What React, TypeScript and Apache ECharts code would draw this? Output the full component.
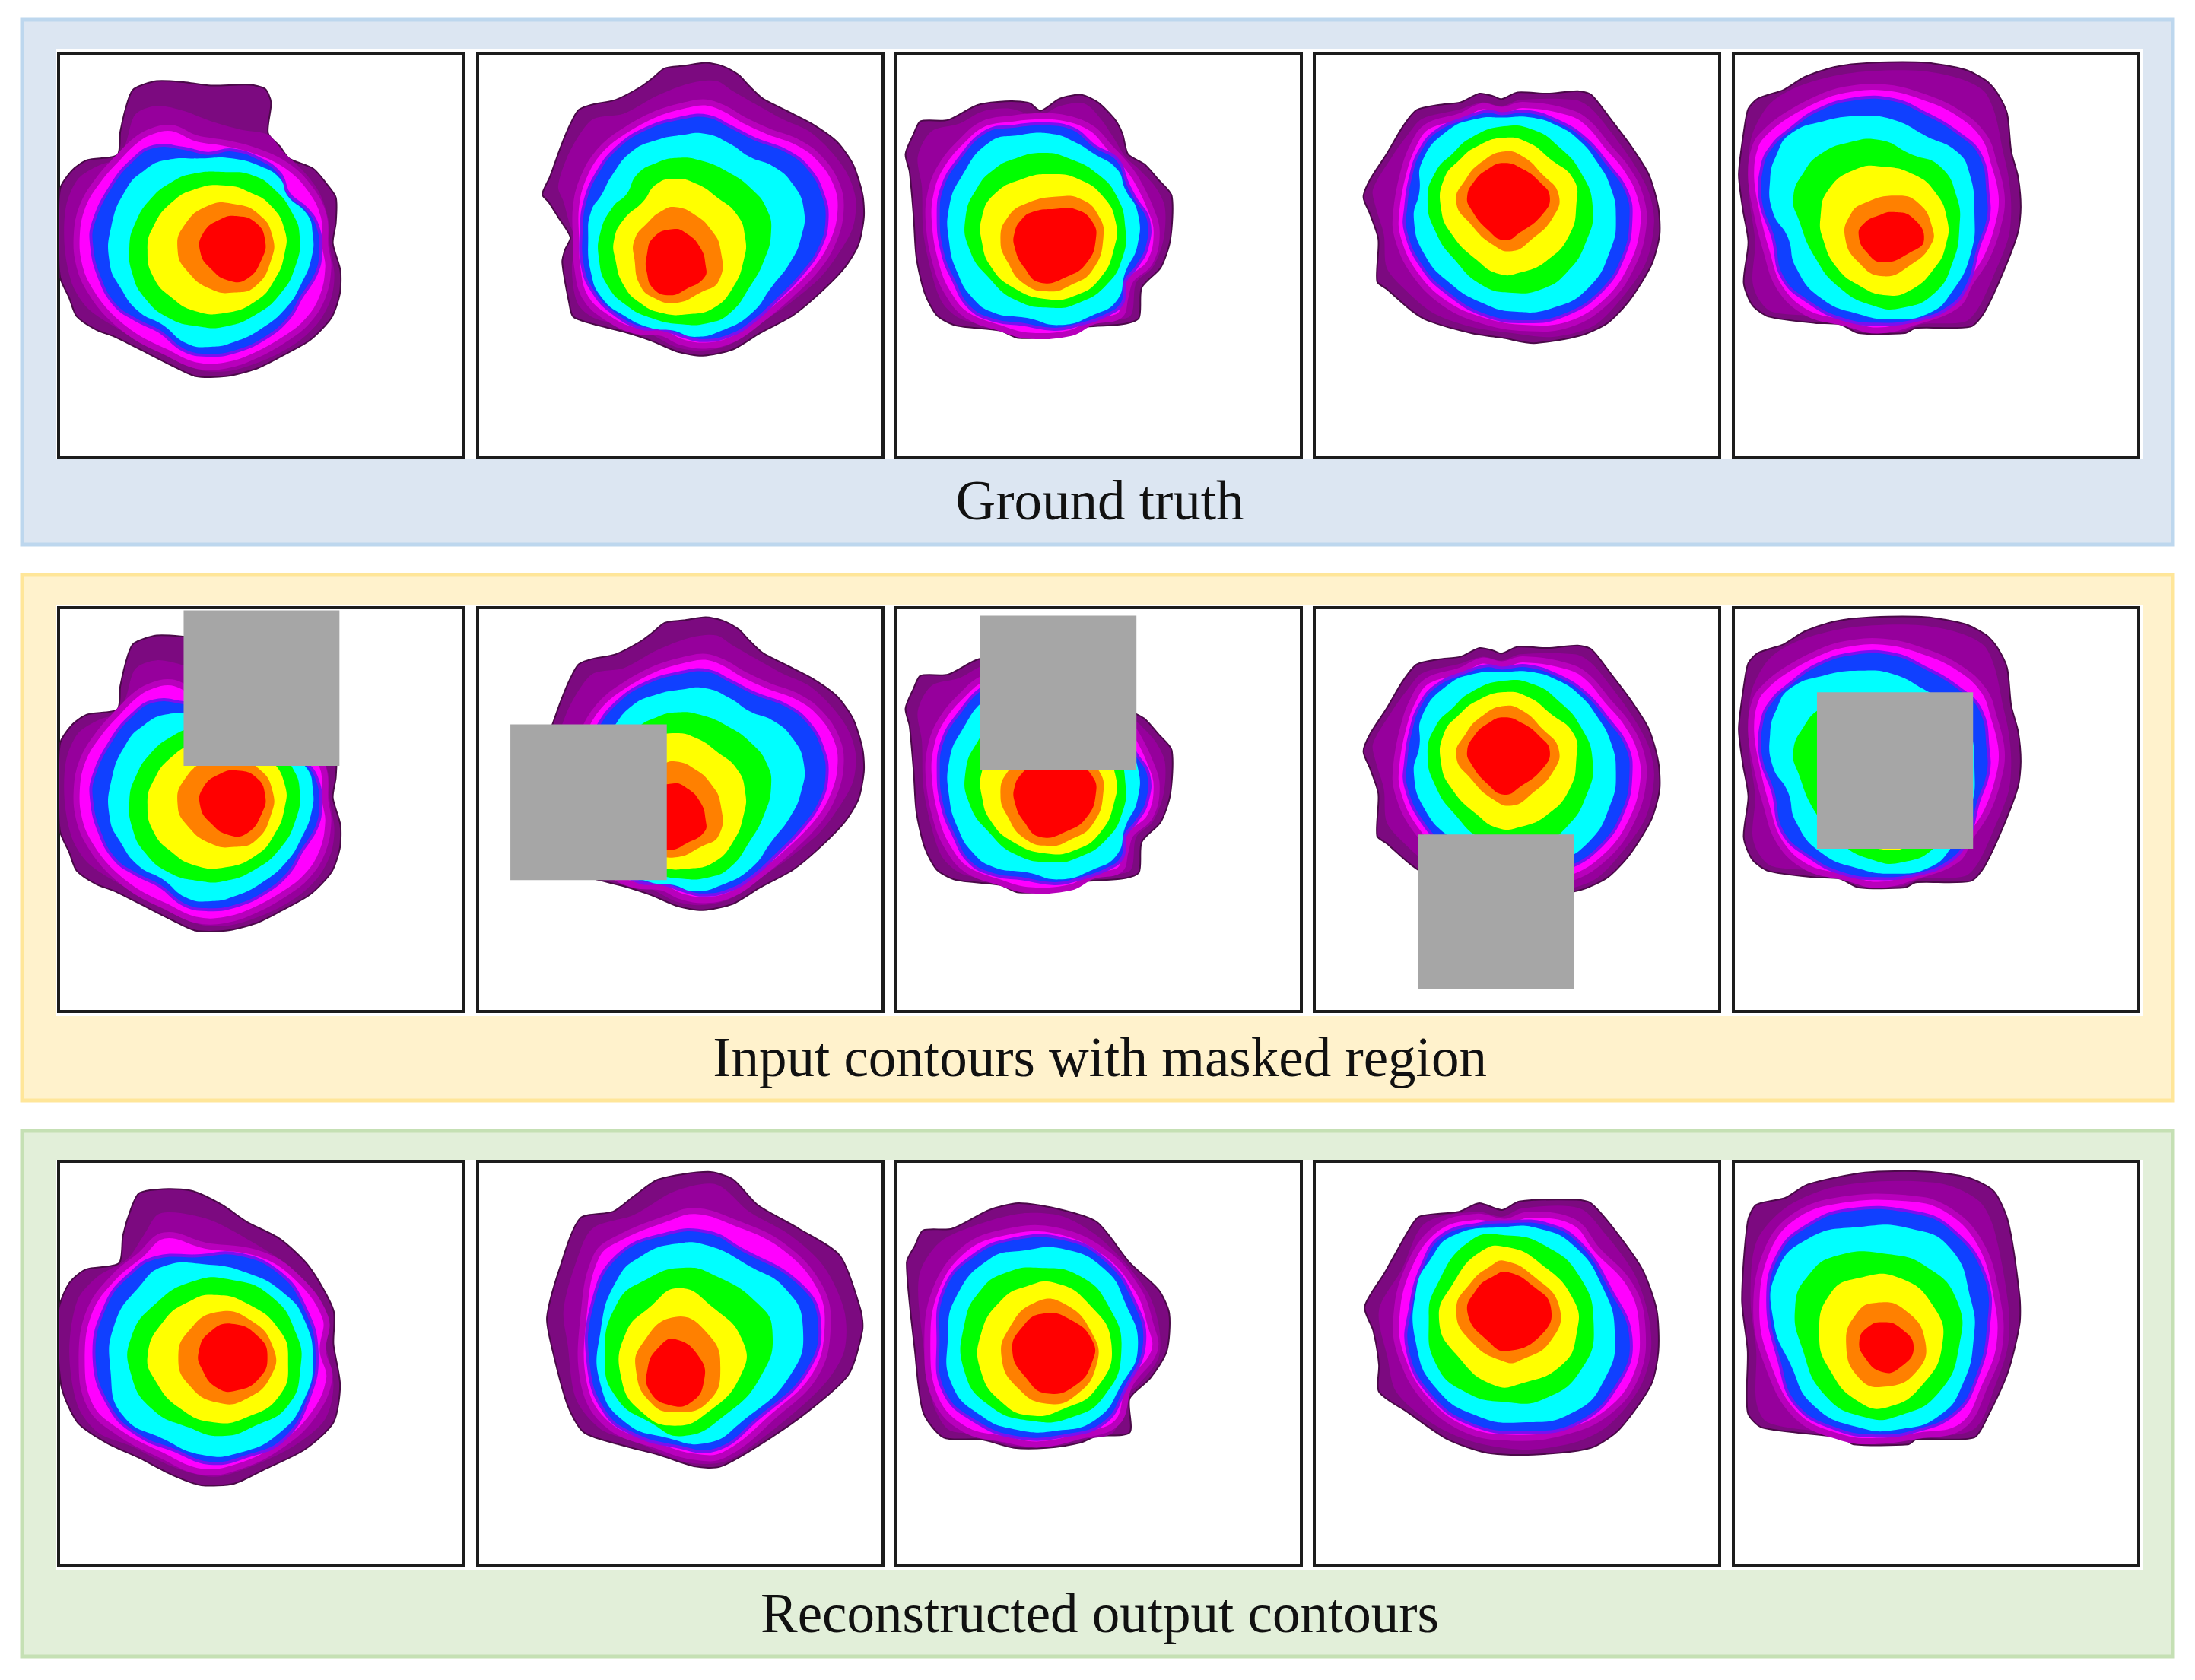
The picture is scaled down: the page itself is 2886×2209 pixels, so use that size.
import React, { useEffect, useRef } from "react";
import * as echarts from "echarts";

type Pts = number[][];
const levelColors = ["#7c0a80", "#96009c", "#ff00ff", "#1040ff", "#00ffff", "#00ff00", "#ffff00", "#ff8000", "#ff0000"];
const levelStrokes = ["#4a0a48", "#96009c", "#b800bc", "#7a10f0", "#00ffff", "#00ff00", "#ffff00", "#ff8000", "#ff0000"];
const levelStrokeWidths = [2, 0, 8, 4, 0, 0, 0, 0, 0];
const levelSmooth = [0.25, 0.3, 0.4, 0.45, 0.5, 0.5, 0.5, 0.5, 0.5];

const rowTitles = ["Ground truth", "Input contours with masked region", "Reconstructed output contours"];

const truth1: Pts[] = [
  [[395,215],[470,192],[560,195],[650,205],[780,203],[830,215],[850,255],[840,345],[880,385],[910,420],[990,450],[1030,490],[1065,535],[1065,610],[1055,670],[1080,750],[1078,820],[1050,890],[980,955],[880,1005],[800,1040],[700,1062],[600,1062],[520,1030],[420,985],[330,945],[270,925],[205,885],[180,830],[150,770],[145,660],[150,510],[190,455],[240,425],[340,410],[350,340],[375,250]],
  [[400,290],[470,265],[560,280],[650,310],[750,335],[840,350],[890,400],[960,460],[1010,520],[1040,600],[1045,680],[1060,760],[1050,830],[1010,900],[940,960],[840,1010],[720,1045],[620,1045],[520,1010],[420,960],[320,910],[240,860],[190,790],[165,680],[170,560],[210,480],[280,440],[345,420],[370,370]],
  [[440,345],[520,330],[600,360],[700,375],[790,395],[900,440],[980,510],[1025,590],[1030,680],[1040,740],[1020,830],[970,900],[900,950],[800,1000],[700,1030],[600,1030],[500,990],[400,945],[310,880],[250,810],[215,740],[205,650],[225,560],[280,480],[340,420],[390,375]],
  [[460,385],[560,390],[640,405],[720,395],[810,420],[880,465],[910,525],[970,570],[1005,620],[1015,690],[1000,760],[950,830],[910,890],[830,950],[730,990],[640,1000],[560,985],[480,930],[400,895],[330,850],[280,770],[255,680],[260,610],[320,500],[390,425]],
  [[500,425],[620,420],[720,420],[820,445],[880,480],[905,530],[970,585],[988,640],[985,710],[950,790],[900,860],[820,920],[730,960],[650,975],[570,965],[490,910],[410,870],[350,800],[315,730],[320,620],[370,510],[430,455]],
  [[590,465],[700,460],[790,470],[860,510],[920,580],[945,650],[930,740],[880,820],[800,880],[700,915],[610,915],[510,890],[430,830],[390,760],[380,680],[400,610],[450,540],[520,490]],
  [[600,510],[700,500],[780,520],[850,560],[895,630],[895,700],[860,780],[800,840],[700,875],[600,870],[520,830],[460,770],[440,690],[460,620],[520,550]],
  [[640,560],[730,555],[810,585],[855,650],[850,720],[800,795],[730,815],[650,805],[570,750],[540,690],[560,620]],
  [[680,600],[740,590],[800,610],[830,660],[820,715],[770,775],[710,780],[650,745],[615,695],[625,640]],
];
const truth2: Pts[] = [
  [[710,90],[780,80],[860,68],[920,80],[980,115],[1020,160],[1070,210],[1160,260],[1250,310],[1340,380],[1400,470],[1435,590],[1440,680],[1420,790],[1370,880],[1280,980],[1180,1070],[1060,1140],[960,1205],[850,1230],[760,1215],[660,1170],[560,1135],[450,1105],[375,1075],[360,1020],[335,860],[345,810],[365,760],[320,680],[285,620],[262,590],[290,520],[330,400],[365,310],[395,255],[440,235],[530,215],[620,165],[670,125]],
  [[800,150],[900,140],[960,180],[1040,230],[1140,290],[1240,340],[1320,420],[1380,510],[1410,610],[1400,720],[1350,820],[1280,920],[1170,1020],[1050,1110],[950,1185],[850,1210],[750,1195],[660,1145],[560,1110],[450,1080],[390,1020],[370,880],[385,780],[360,700],[340,620],[320,560],[350,450],[400,350],[450,290],[560,270],[680,200]],
  [[790,235],[860,225],[930,250],[1000,295],[1090,340],[1200,385],[1280,450],[1340,550],[1355,650],[1330,770],[1270,880],[1170,990],[1060,1090],[960,1165],[860,1190],[770,1175],[700,1140],[600,1130],[500,1080],[420,1000],[390,880],[385,760],[385,640],[410,530],[470,420],[560,340],[680,270]],
  [[780,285],[870,280],[950,320],[1040,370],[1160,420],[1240,490],[1290,590],[1305,690],[1280,800],[1210,910],[1120,1010],[1040,1090],[950,1150],[850,1170],[770,1150],[700,1125],[620,1120],[520,1060],[450,980],[410,880],[405,720],[420,610],[460,510],[530,410],[640,330]],
  [[770,355],[860,350],[950,390],[1020,440],[1110,480],[1180,550],[1220,650],[1210,760],[1170,860],[1100,960],[1030,1060],[920,1130],[820,1155],[740,1130],[660,1120],[560,1070],[480,1000],[440,900],[430,760],[440,660],[480,590],[520,510],[590,420],[680,375]],
  [[760,445],[840,455],[940,500],[1030,570],[1085,650],[1100,740],[1075,850],[1020,960],[950,1060],[870,1100],[770,1105],[660,1080],[570,1030],[500,950],[470,850],[475,740],[520,640],[570,590],[610,510],[680,465]],
  [[750,528],[830,550],[900,600],[975,670],[1005,760],[1000,850],[960,960],[890,1040],[800,1065],[700,1060],[620,1020],[560,950],[530,850],[525,770],[560,690],[630,620],[680,550]],
  [[750,640],[820,670],[880,730],[915,810],[910,930],[840,980],[750,1020],[670,1000],[620,950],[600,850],[600,770],[650,700],[700,655]],
  [[740,728],[790,745],[840,800],[860,870],[855,920],[790,965],[730,990],[670,965],[645,900],[645,830],[670,760]],
];
const truth3: Pts[] = [
  [[110,300],[210,295],[320,235],[440,220],[510,228],[550,258],[620,210],[700,195],[760,225],[820,290],[850,350],[870,430],[930,470],[980,530],[1030,595],[1025,770],[990,880],[920,960],[910,1080],[850,1105],[720,1115],[690,1130],[640,1150],[470,1160],[400,1130],[240,1110],[170,1070],[125,980],[95,840],[85,680],[70,500],[55,430],[85,350]],
  [[150,340],[250,310],[340,260],[440,250],[540,280],[620,240],[710,230],[770,290],[820,370],[860,440],[910,490],[970,560],[1005,640],[1000,770],[960,880],[900,940],[880,1070],[800,1090],[710,1100],[650,1130],[480,1145],[390,1115],[260,1085],[190,1020],[150,900],[120,740],[115,560],[100,440]],
  [[340,310],[440,290],[550,280],[650,290],[740,330],[800,400],[860,470],[900,530],[950,640],[975,740],[950,860],[880,930],[860,1000],[840,1070],[740,1095],[660,1140],[500,1150],[400,1120],[280,1070],[215,990],[170,880],[140,700],[150,570],[190,470],[260,380]],
  [[350,340],[450,320],[560,310],[670,330],[750,400],[830,450],[870,550],[900,610],[945,690],[940,800],[900,880],[860,935],[850,1020],[790,1070],[680,1110],[600,1125],[480,1105],[380,1090],[290,1040],[230,930],[190,820],[175,680],[190,560],[250,450]],
  [[360,385],[470,355],[590,350],[680,385],[740,425],[830,490],[860,570],[905,660],[905,790],[860,900],[830,1010],[740,1070],[620,1108],[500,1080],[380,1060],[300,1000],[245,900],[215,780],[215,640],[260,520]],
  [[450,450],[560,425],[660,450],[760,510],[830,600],[860,720],[850,840],[790,950],[690,1020],[590,1040],[460,1010],[360,920],[290,810],[275,680],[320,560],[380,490]],
  [[480,530],[590,510],[690,530],[780,600],[825,700],[820,800],[770,920],[680,990],[570,1005],[450,960],[370,880],[335,780],[335,680],[380,590]],
  [[500,625],[620,598],[700,610],[760,670],[780,760],[740,890],[660,950],[580,975],[490,945],[430,860],[403,770],[430,680]],
  [[520,660],[600,648],[680,650],[740,700],[752,770],[720,860],[650,915],[550,940],[490,880],[455,800],[455,740],[480,690]],
];
const truth4: Pts[] = [
  [[400,255],[480,235],[560,225],[630,190],[680,200],[712,212],[770,185],[880,190],[990,180],[1040,195],[1110,290],[1180,390],[1250,510],[1285,640],[1290,750],[1260,870],[1180,1010],[1100,1100],[1000,1150],[830,1180],[720,1160],[600,1140],[440,1090],[380,1050],[290,965],[255,935],[260,770],[230,670],[205,600],[230,530],[290,430],[350,320]],
  [[420,290],[550,255],[640,225],[712,240],[780,215],[980,215],[1040,250],[1110,340],[1190,460],[1250,580],[1270,700],[1240,860],[1160,990],[1050,1110],[900,1155],[750,1140],[600,1115],[460,1060],[350,960],[290,880],[280,750],[250,640],[240,570],[310,440],[370,350]],
  [[440,320],[560,280],[640,240],[712,255],[790,235],[960,265],[1030,310],[1100,400],[1170,490],[1220,600],[1230,720],[1190,870],[1100,1010],[960,1105],[800,1120],[640,1090],[500,1020],[390,900],[330,760],[325,660],[350,510],[390,390]],
  [[470,340],[580,285],[660,260],[712,270],[800,260],[920,300],[1020,370],[1100,470],[1170,580],[1185,690],[1160,830],[1080,970],[940,1070],[800,1095],[650,1070],[510,980],[420,880],[360,740],[360,640],[380,510],[410,420]],
  [[510,340],[620,290],[720,285],[820,285],[920,320],[1000,380],[1060,460],[1110,560],[1130,680],[1110,810],[1030,960],[900,1040],[760,1055],[640,1020],[520,940],[430,830],[390,690],[410,580],[420,460]],
  [[600,365],[720,320],[830,335],[920,400],[1000,500],[1045,640],[1020,780],[950,900],[860,965],[750,980],[640,950],[540,850],[470,740],[440,610],[470,500],[530,430]],
  [[620,400],[720,365],[810,385],[890,450],[975,530],[985,630],[960,750],[880,850],[780,900],[700,905],[620,850],[530,750],[490,650],[500,530],[560,450]],
  [[640,460],[720,420],[790,440],[860,510],[920,590],[900,680],[820,770],[750,815],[680,790],[600,710],[545,620],[580,530]],
  [[660,490],[720,465],[790,490],[850,540],[888,600],[860,670],[780,740],[722,772],[660,730],[600,650],[585,600],[610,540]],
];
const truth5: Pts[] = [
  [[120,210],[215,175],[290,125],[400,85],[540,68],[740,68],[880,95],[960,140],[1000,190],[1035,270],[1050,420],[1075,520],[1085,640],[1075,740],[1020,900],[950,1060],[900,1115],[700,1120],[660,1140],[490,1140],[420,1105],[330,1100],[160,1075],[100,1030],[68,940],[85,780],[65,650],[50,510],[70,330],[85,250]],
  [[160,235],[250,170],[400,120],[540,100],[720,100],[860,130],[950,180],[990,270],[1020,420],[1040,520],[1050,640],[1040,760],[990,900],[930,1040],[880,1095],[720,1105],[640,1135],[490,1125],[330,1075],[170,1055],[120,1000],[100,930],[110,780],[90,620],[85,470],[100,350]],
  [[220,280],[340,210],[440,175],[580,165],[720,200],[860,270],[950,360],[985,460],[1015,600],[1000,720],[960,840],[900,940],[850,1030],[700,1095],[560,1130],[440,1100],[300,1060],[200,960],[150,810],[115,660],[95,520],[110,400],[150,340]],
  [[240,330],[340,255],[480,210],[620,215],[720,260],[860,350],[940,440],[965,590],[965,690],[930,800],[890,950],[820,1040],[700,1090],[560,1105],[430,1085],[310,1020],[210,920],[175,760],[130,620],[135,480],[170,400]],
  [[240,350],[360,300],[500,280],[620,295],[740,360],[850,420],[895,500],[915,660],[900,830],[830,980],[750,1060],[620,1085],[490,1065],[350,1000],[260,880],[230,760],[175,660],[165,530],[190,430]],
  [[350,430],[450,385],[570,375],[680,430],[790,480],[850,600],[860,720],[835,860],[770,980],[650,1040],[540,1030],[420,960],[330,840],[270,690],[250,600],[290,500]],
  [[480,490],[580,480],[690,510],[770,580],[815,690],[810,790],[770,880],[680,970],[590,990],[490,950],[410,880],[360,770],[350,680],[380,570]],
  [[510,625],[630,595],[710,625],[760,720],[755,790],[680,870],[580,915],[490,860],[440,760],[460,670]],
  [[560,675],[620,660],[690,685],[730,770],[680,820],[580,860],[520,820],[490,750],[510,705]],
];

const output1: Pts[] = [
  [[150,155],[185,143],[215,150],[250,190],[280,240],[320,290],[355,370],[385,500],[385,600],[393,720],[385,830],[350,910],[300,970],[265,1010],[225,1015],[190,985],[150,935],[110,890],[75,830],[55,720],[52,500],[65,420],[85,380],[125,362],[130,280],[140,200]],
  [[175,215],[230,230],[280,290],[330,370],[365,480],[375,600],[385,720],[375,820],[340,895],[290,955],[240,990],[190,960],[140,900],[100,860],[75,780],[65,620],[75,470],[100,400],[135,350],[155,280]],
  [[180,280],[230,310],[290,330],[335,390],[375,520],[372,620],[380,700],[360,810],[320,900],[270,960],[225,975],[175,925],[125,860],[90,780],[80,640],[90,500],[120,400],[150,340]],
  [[170,345],[220,340],[270,335],[320,390],[350,490],[365,620],[355,760],[325,880],[280,930],[235,950],[190,910],[150,870],[115,790],[95,640],[110,480],[140,390]],
  [[180,370],[230,365],[280,390],[325,450],[350,530],[360,650],[350,760],[320,860],[270,920],[225,925],[180,880],[130,810],[115,680],[120,540],[150,430]],
  [[215,415],[260,410],[310,460],[340,570],[345,670],[330,780],[290,840],[250,870],[210,845],[165,790],[140,690],[140,580],[170,480]],
  [[240,455],[280,480],[320,560],[330,650],[320,750],[280,815],[240,830],[200,790],[170,710],[160,630],[180,530],[210,475]],
  [[245,505],[285,530],[312,610],[310,690],[280,760],[245,772],[210,720],[197,640],[210,560]],
  [[262,540],[295,580],[305,640],[295,700],[270,735],[245,730],[225,670],[222,620],[235,565]],
];
const output2: Pts[] = [
  [[780,115],[840,93],[870,115],[900,190],[950,260],[1000,340],[1025,500],[1027,560],[1010,690],[960,800],[900,900],[855,960],[825,960],[780,925],[740,900],[690,860],[670,780],[650,600],[645,520],[660,380],[685,230],[725,210],[750,165]],
  [[800,150],[850,130],[890,210],[940,280],[980,370],[1005,500],[1005,620],[980,720],[920,850],[860,945],[810,945],[750,885],[710,850],[680,760],[670,600],[665,500],[680,360],[700,260],[750,220]],
  [[790,230],[825,208],[870,240],[930,310],[975,430],[985,550],[970,690],[920,810],[860,925],[820,930],[780,900],[720,840],[690,720],[690,500],[705,340],[730,290]],
  [[790,275],[840,270],[880,320],[950,420],[975,530],[960,680],[900,820],[850,910],[800,900],[750,865],[715,800],[695,660],[700,480],[730,340]],
  [[800,305],[840,310],[890,370],[935,440],[955,550],[940,690],[880,830],[840,890],[790,875],[740,830],[710,720],[710,560],[730,410],[760,340]],
  [[810,375],[850,400],[900,480],[918,560],[905,690],[860,810],[810,870],[770,830],[730,760],[715,640],[730,480],[765,410]],
  [[805,435],[845,490],[882,590],[880,690],[840,800],[800,840],[760,800],[735,700],[740,570],[770,490]],
  [[800,520],[840,570],[855,670],[840,770],[800,800],[770,770],[753,680],[760,600]],
  [[800,585],[830,640],[835,710],[820,770],[795,780],[770,740],[767,670],[780,610]],
];
const output3: Pts[] = [
  [[1100,265],[1135,260],[1180,205],[1215,185],[1260,200],[1310,240],[1350,360],[1385,440],[1398,510],[1395,620],[1375,700],[1350,760],[1350,860],[1310,870],[1290,890],[1250,905],[1210,905],[1170,880],[1125,875],[1100,800],[1090,620],[1080,360],[1090,310]],
  [[1120,300],[1170,245],[1220,215],[1270,225],[1320,300],[1370,440],[1385,540],[1385,640],[1360,720],[1340,760],[1330,860],[1280,880],[1215,900],[1165,865],[1130,850],[1110,760],[1100,600],[1095,400]],
  [[1150,320],[1200,270],[1260,265],[1320,330],[1360,440],[1375,540],[1380,620],[1350,720],[1335,830],[1290,870],[1240,895],[1200,880],[1150,850],[1115,760],[1105,600],[1115,440]],
  [[1160,340],[1210,290],[1270,290],[1320,350],[1355,470],[1368,600],[1345,730],[1320,830],[1270,870],[1215,875],[1165,830],[1125,740],[1118,590],[1125,440]],
  [[1180,350],[1220,325],[1270,320],[1320,380],[1345,480],[1360,610],[1340,720],[1310,820],[1260,855],[1210,850],[1170,810],[1135,720],[1130,580],[1140,460]],
  [[1200,390],[1240,375],[1290,400],[1325,490],[1340,620],[1320,750],[1280,815],[1230,825],[1180,780],[1150,680],[1150,540],[1170,440]],
  [[1225,430],[1260,420],[1300,480],[1328,600],[1310,730],[1270,790],[1230,810],[1195,770],[1170,680],[1170,570],[1195,470]],
  [[1235,478],[1270,480],[1305,570],[1310,660],[1285,750],[1250,775],[1215,730],[1195,640],[1205,550]],
  [[1245,510],[1280,530],[1305,590],[1305,650],[1285,720],[1250,745],[1225,700],[1208,620],[1220,550]],
];
const output4: Pts[] = [
  [[220,225],[290,210],[325,185],[365,205],[395,180],[495,175],[520,185],[560,260],[610,380],[635,500],[638,620],[625,720],[570,850],[520,905],[420,925],[340,920],[270,880],[200,800],[150,740],[150,660],[140,560],[125,490],[160,390],[200,270]],
  [[230,245],[320,210],[365,225],[400,200],[500,200],[545,275],[595,390],[620,510],[625,620],[605,730],[550,840],[490,890],[400,910],[310,885],[240,830],[180,740],[165,640],[150,500],[190,380]],
  [[250,260],[320,225],[370,240],[410,220],[490,240],[530,320],[590,430],[610,550],[600,690],[550,800],[470,860],[380,875],[300,850],[230,760],[190,640],[180,530],[200,380]],
  [[260,280],[330,245],[370,240],[440,245],[500,300],[555,440],[590,580],[570,710],[500,830],[400,860],[310,835],[240,750],[200,620],[205,490],[225,370]],
  [[280,280],[370,255],[430,260],[490,310],[540,430],[562,570],[545,700],[490,800],[400,830],[320,810],[250,730],[215,600],[215,440],[240,350]],
  [[310,295],[375,280],[440,310],[500,400],[525,540],[505,670],[440,760],[370,770],[300,740],[250,660],[237,530],[250,430]],
  [[330,325],[375,315],[430,360],[490,470],[495,570],[470,660],[400,715],[350,720],[290,640],[255,530],[280,420]],
  [[345,370],[370,355],[420,400],[465,490],[450,590],[400,645],[370,652],[310,590],[285,500],[310,420]],
  [[350,400],[375,388],[420,430],[450,490],[435,570],[375,620],[340,590],[305,510],[320,440]],
];
const output5: Pts[] = [
  [[900,130],[1000,95],[1105,92],[1180,110],[1225,150],[1250,240],[1270,460],[1270,540],[1250,680],[1215,810],[1190,875],[1090,880],[1075,895],[980,895],[960,875],[820,845],[795,800],[795,620],[785,470],[795,240],[810,190],[860,170]],
  [[940,140],[1040,120],[1140,130],[1200,180],[1225,260],[1250,480],[1250,600],[1230,710],[1190,850],[1090,870],[980,880],[930,860],[830,830],[810,770],[810,620],[800,470],[810,300],[860,200]],
  [[880,220],[960,175],[1070,170],[1140,200],[1200,300],[1230,460],[1235,600],[1210,720],[1170,840],[1090,870],[1020,885],[960,875],[880,810],[830,660],[810,500],[830,320]],
  [[900,250],[970,205],[1080,210],[1150,260],[1210,400],[1215,560],[1195,700],[1160,800],[1090,855],[1020,870],[950,850],[880,780],[850,650],[830,470],[850,330]],
  [[900,290],[990,255],[1080,260],[1150,320],[1185,470],[1190,580],[1170,720],[1130,810],[1060,850],[990,845],[910,780],[870,660],[840,530],[845,390]],
  [[950,340],[1040,335],[1110,375],[1160,470],[1165,600],[1130,740],[1060,810],[1000,815],[930,750],[890,610],[878,490],[900,400]],
  [[990,405],[1060,405],[1120,490],[1135,600],[1100,720],[1040,785],[990,770],[940,680],[920,570],[940,450]],
  [[1020,478],[1070,500],[1105,590],[1090,680],[1035,725],[990,700],[967,600],[985,510]],
  [[1030,535],[1060,550],[1085,610],[1060,670],[1030,682],[1000,640],[990,590],[1005,550]],
];

// Masked squares as [x0, y0, x1, y1] in the value range of each panel
const masks = [[560,118,1077,576],[145,493,718,1111],[327,62,901,676],[404,930,977,1544],[337,366,910,986]];

// Value ranges [xMin, xMax, yMin, yMax] of each panel's axes
const truthRanges = [[145,1490,110,1300],[25,1510,30,1632],[20,1505,30,1632],[25,1510,30,1632],[30,1518,30,1632]];
const outputRanges = [[52,543,62,1250],[561,1052,62,1250],[1067,1558,62,1250],[37,745,62,1250],[770,1478,62,1250]];

const truthSets = [truth1, truth2, truth3, truth4, truth5];
const outputSets = [output1, output2, output3, output4, output5];

const panelLefts = [77, 628, 1178, 1728, 2279];
const panelTops = [70, 799, 1527];
const panelWidth = 533;
const panelHeight = 531;
const boxes = [
  { top: 26, height: 690, fill: "#dce6f2", stroke: "#bdd7ee" },
  { top: 756, height: 691, fill: "#fff2cc", stroke: "#ffe699" },
  { top: 1487, height: 691, fill: "#e2efd9", stroke: "#c5e0b4" },
];
const bands = [[65, 539], [796, 540], [1525, 540]];
const titleCenters = [653, 1385, 2116];

function buildOption() {
  const grid: any[] = [];
  const xAxis: any[] = [];
  const yAxis: any[] = [];
  const series: any[] = [];
  const rows = [
    { sets: truthSets, ranges: truthRanges, mask: false },
    { sets: truthSets, ranges: truthRanges, mask: true },
    { sets: outputSets, ranges: outputRanges, mask: false },
  ];
  rows.forEach((row, r) => {
    row.sets.forEach((levels, c) => {
      const idx = grid.length;
      const [x0, x1, y0, y1] = row.ranges[c];
      grid.push({
        left: panelLefts[c], top: panelTops[r], width: panelWidth, height: panelHeight,
        show: true, backgroundColor: "#ffffff", borderColor: "#1c1c1c", borderWidth: 4, z: 2,
      });
      xAxis.push({ gridIndex: idx, type: "value", min: x0, max: x1, show: false });
      yAxis.push({ gridIndex: idx, type: "value", min: y0, max: y1, inverse: true, show: false });
      series.push({
        type: "custom", coordinateSystem: "cartesian2d", xAxisIndex: idx, yAxisIndex: idx,
        clip: true, z: 3, silent: true,
        data: levels.map((pts) => pts[0]),
        renderItem: (p: any, api: any) => {
          const i = p.dataIndex;
          return {
            type: "polygon",
            shape: { points: levels[i].map((pt) => api.coord(pt)), smooth: levelSmooth[i] },
            style: { fill: levelColors[i], stroke: levelStrokes[i], lineWidth: levelStrokeWidths[i] },
          };
        },
      });
      if (row.mask) {
        const m = masks[c];
        series.push({
          type: "custom", coordinateSystem: "cartesian2d", xAxisIndex: idx, yAxisIndex: idx,
          clip: true, z: 4, silent: true,
          data: [[m[0], m[1]]],
          renderItem: (_p: any, api: any) => {
            const a = api.coord([m[0], m[1]]);
            const b = api.coord([m[2], m[3]]);
            return {
              type: "rect",
              shape: { x: a[0], y: a[1], width: b[0] - a[0], height: b[1] - a[1] },
              style: { fill: "#a6a6a6" },
            };
          },
        });
      }
    });
  });
  const graphic: any[] = [
    ...boxes.map((b) => ({
      type: "rect", z: 0,
      shape: { x: 29, y: b.top, width: 2828, height: b.height },
      style: { fill: b.fill, stroke: b.stroke, lineWidth: 5 },
    })),
    ...bands.map(([top, height]) => ({
      type: "rect", z: 1,
      shape: { x: 73, y: top, width: 2745, height },
      style: { fill: "#ffffff" },
    })),
  ];
  return {
    animation: false,
    backgroundColor: "#ffffff",
    grid, xAxis, yAxis, series, graphic,
    title: rowTitles.map((t, i) => ({
      text: t, left: 1441, top: titleCenters[i], textAlign: "center", textVerticalAlign: "middle", z: 6,
      textStyle: { fontFamily: "Liberation Serif", fontSize: 73, fontWeight: "normal", color: "#111111" },
    })),
  };
}

export default function App() {
  const ref = useRef<HTMLDivElement>(null);
  useEffect(() => {
    document.body.style.margin = "0";
    const chart = echarts.init(ref.current!, undefined, { renderer: "svg" });
    chart.setOption(buildOption() as any);
    return () => chart.dispose();
  }, []);
  return <div ref={ref} style={{ width: 2886, height: 2209 }} />;
}
